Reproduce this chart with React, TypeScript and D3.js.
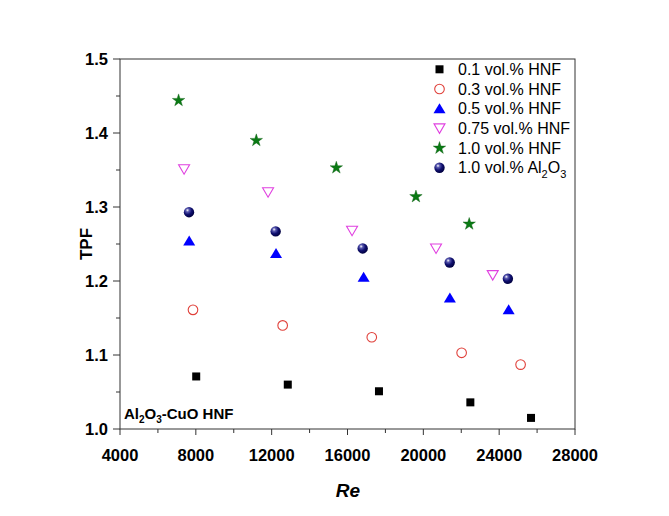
import React from "react";
import * as d3 from "d3";

const xTicks = [4000, 8000, 12000, 16000, 20000, 24000, 28000];
const yTicks = [1.0, 1.1, 1.2, 1.3, 1.4, 1.5];

const re01 = [8020, 12850, 17660, 22480, 25680];
const tpf01 = [1.071, 1.060, 1.051, 1.036, 1.015];
const re03 = [7850, 12580, 17280, 22020, 25130];
const tpf03 = [1.161, 1.140, 1.124, 1.103, 1.087];
const re05 = [7650, 12230, 16850, 21400, 24500];
const tpf05 = [1.254, 1.237, 1.205, 1.177, 1.161];
const re075 = [7380, 11810, 16240, 20670, 23660];
const tpf075 = [1.351, 1.320, 1.268, 1.244, 1.208];
const re10 = [7090, 11190, 15410, 19610, 22420];
const tpf10 = [1.444, 1.390, 1.353, 1.314, 1.277];
const reAl = [7640, 12210, 16800, 21390, 24460];
const tpfAl = [1.293, 1.267, 1.244, 1.225, 1.203];

const W = 669, H = 516;
const x = d3.scaleLinear().domain([4000, 28000]).range([120, 575]);
const y = d3.scaleLinear().domain([1.0, 1.5]).range([429, 59]);

const FONT = "'Liberation Sans', Arial, sans-serif";

type Kind = "square" | "circle" | "triUp" | "triDown" | "star" | "sphere";

const series: { kind: Kind; xs: number[]; ys: number[]; label: React.ReactNode }[] = [
  { kind: "square", xs: re01, ys: tpf01, label: "0.1 vol.% HNF" },
  { kind: "circle", xs: re03, ys: tpf03, label: "0.3 vol.% HNF" },
  { kind: "triUp", xs: re05, ys: tpf05, label: "0.5 vol.% HNF" },
  { kind: "triDown", xs: re075, ys: tpf075, label: "0.75 vol.% HNF" },
  { kind: "star", xs: re10, ys: tpf10, label: "1.0 vol.% HNF" },
  { kind: "sphere", xs: reAl, ys: tpfAl, label: "al" },
];

const starPath = d3.symbol().type(d3.symbolStar).size(48)()!;

function Marker({ kind, cx, cy }: { kind: Kind; cx: number; cy: number }) {
  switch (kind) {
    case "square":
      return <rect x={cx - 4} y={cy - 4} width={8} height={8} fill="#000" />;
    case "circle":
      return <circle cx={cx} cy={cy} r={4.8} fill="none" stroke="#e0403a" strokeWidth={1.1} />;
    case "triUp":
      return (
        <path
          d={`M${cx},${cy - 5.5}L${cx + 6},${cy + 4.5}L${cx - 6},${cy + 4.5}Z`}
          fill="#0000ff"
        />
      );
    case "triDown":
      return (
        <path
          d={`M${cx - 5.5},${cy - 4.5}L${cx + 5.5},${cy - 4.5}L${cx},${cy + 5}Z`}
          fill="none"
          stroke="#e040e0"
          strokeWidth={1.1}
        />
      );
    case "star":
      return <path d={starPath} transform={`translate(${cx},${cy})`} fill="#0a7a14" stroke="#0a5a10" strokeWidth={0.4} />;
    case "sphere":
      return <circle cx={cx} cy={cy} r={5.2} fill="url(#sphereGrad)" />;
  }
}

export default function App() {
  const xMinor = d3.range(6000, 28000, 4000);
  const yMinor = d3.range(1.05, 1.5, 0.1);
  return (
    <svg
      width={W}
      height={H}
      style={{ position: "absolute", left: 0, top: 0, background: "#fff", display: "block" }}
      fontFamily={FONT}
    >
      <defs>
        <radialGradient id="sphereGrad" cx="0.38" cy="0.35" r="0.65" fx="0.35" fy="0.3">
          <stop offset="0" stopColor="#ffffff" />
          <stop offset="0.25" stopColor="#5a5ab0" />
          <stop offset="0.6" stopColor="#101070" />
          <stop offset="1" stopColor="#000040" />
        </radialGradient>
      </defs>
      <rect x={0} y={0} width={W} height={H} fill="#fff" />
      {/* frame */}
      <rect x={120} y={59} width={455} height={370} fill="none" stroke="#333" strokeWidth={1} />
      {/* x ticks */}
      {xTicks.map((t) => (
        <g key={"xt" + t}>
          <line x1={x(t)} x2={x(t)} y1={429} y2={435} stroke="#333" />
          <text x={x(t)} y={461} textAnchor="middle" fontWeight="bold" fontSize={16.5} fill="#000">
            {t}
          </text>
        </g>
      ))}
      {xMinor.map((t) => (
        <line key={"xm" + t} x1={x(t)} x2={x(t)} y1={429} y2={433} stroke="#333" />
      ))}
      {/* y ticks */}
      {yTicks.map((t) => (
        <g key={"yt" + t}>
          <line x1={113} x2={120} y1={y(t)} y2={y(t)} stroke="#333" />
          <text x={108} y={y(t) + 6} textAnchor="end" fontWeight="bold" fontSize={16.5} fill="#000">
            {t.toFixed(1)}
          </text>
        </g>
      ))}
      {yMinor.map((t) => (
        <line key={"ym" + t} x1={116} x2={120} y1={y(t)} y2={y(t)} stroke="#333" />
      ))}
      {/* axis titles */}
      <text
        transform={`translate(92,244) rotate(-90)`}
        textAnchor="middle"
        fontWeight="bold"
        fontSize={17}
        fill="#000"
      >
        TPF
      </text>
      <text x={348} y={497} textAnchor="middle" fontWeight="bold" fontStyle="italic" fontSize={19} fill="#000">
        Re
      </text>
      {/* annotation */}
      <text x={124} y={419} fontWeight="bold" fontSize={15} fill="#000">
        Al<tspan fontSize={10} dy={4}>2</tspan>
        <tspan dy={-4}>O</tspan>
        <tspan fontSize={10} dy={4}>3</tspan>
        <tspan dy={-4}>-CuO HNF</tspan>
      </text>
      {/* data */}
      {series.map((s, si) =>
        s.xs.map((v, i) => <Marker key={si + "-" + i} kind={s.kind} cx={x(v)} cy={y(s.ys[i])} />)
      )}
      {/* legend */}
      {series.map((s, i) => {
        const ly = 69.3 + i * 19.7;
        return (
          <g key={"lg" + i}>
            <Marker kind={s.kind} cx={439.5} cy={ly} />
            <text x={458} y={ly + 5.5} fontSize={16} fill="#000">
              {s.kind === "sphere" ? (
                <>
                  1.0 vol.% Al<tspan fontSize={11} dy={5}>2</tspan>
                  <tspan dy={-5}>O</tspan>
                  <tspan fontSize={11} dy={5}>3</tspan>
                </>
              ) : (
                s.label
              )}
            </text>
          </g>
        );
      })}
    </svg>
  );
}
